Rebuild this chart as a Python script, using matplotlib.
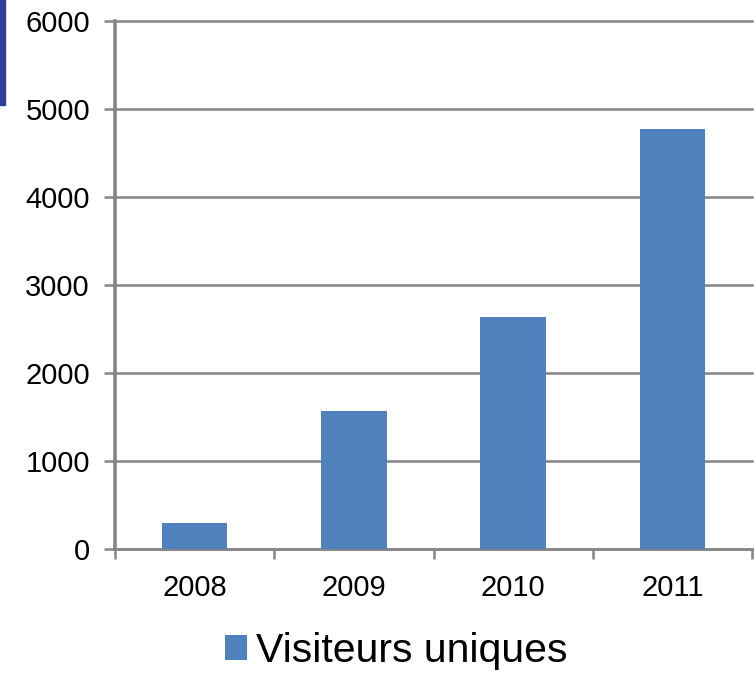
import matplotlib
matplotlib.use("Agg")
import matplotlib.pyplot as plt
from matplotlib.patches import Rectangle

years = ["2008", "2009", "2010", "2011"]
visiteurs = [295, 1570, 2635, 4775]
yticks = [0, 1000, 2000, 3000, 4000, 5000, 6000]
series_label = "Visiteurs uniques"

plt.rcParams["font.family"] = ["Liberation Sans", "DejaVu Sans"]

W, H = 756, 674
fig = plt.figure(figsize=(W / 100, H / 100), dpi=100)
ax = fig.add_axes([115 / W, 1 - 548.7 / H, (752 - 115) / W, (548.7 - 21) / H])

blue = "#4F81BD"
grey = "#858585"

x = list(range(len(years)))
ax.bar(x, visiteurs, width=0.41, color=blue, zorder=3, label=series_label)

ax.set_xlim(-0.5, len(years) - 0.5)
ax.set_ylim(0, 6000)
ax.set_yticks(yticks)
ax.set_yticklabels([str(v) for v in yticks], fontsize=21)

# category boundary ticks (major) and centered labels (minor)
ax.set_xticks([i - 0.5 for i in range(len(years) + 1)])
ax.set_xticklabels([])
ax.set_xticks(x, minor=True)
ax.set_xticklabels(years, minor=True, fontsize=21)
ax.tick_params(axis="x", which="major", length=7.5, width=1.8, color=grey, direction="out")
ax.tick_params(axis="x", which="minor", length=0, pad=18)
ax.tick_params(axis="y", length=8, width=1.8, color=grey, direction="out", pad=10)

ax.yaxis.grid(True, color=grey, linewidth=1.8, zorder=0)
for gl in ax.get_ygridlines():
    gl.set_clip_on(False)
ax.set_axisbelow(True)
for s in ["top", "right"]:
    ax.spines[s].set_visible(False)
ax.spines["left"].set_color(grey)
ax.spines["left"].set_linewidth(2.6)
ax.spines["bottom"].set_color(grey)
ax.spines["bottom"].set_linewidth(1.8)

leg = fig.legend(loc="center", bbox_to_anchor=(396 / W, 1 - 651 / H), frameon=False,
                 fontsize=29.5, handlelength=0.55, handleheight=0.55, handletextpad=0.2,
                 borderpad=0)

# decorative strip at the left edge of the screenshot
fig.patches.append(Rectangle((0, 1 - 105 / H), 5 / W, 105 / H, transform=fig.transFigure,
                             color="#2E3F99", zorder=5))

fig.savefig("out.png", dpi=100)
